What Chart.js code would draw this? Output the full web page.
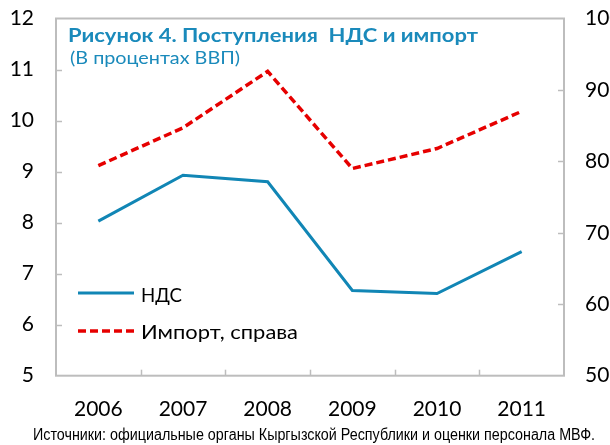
<!DOCTYPE html>
<html>
<head>
<meta charset="utf-8">
<script src="https://cdn.jsdelivr.net/npm/chart.js@4/dist/chart.umd.min.js"></script>
<style>
  html, body { margin: 0; padding: 0; background: #fff; }
  #wrap { position: relative; width: 610px; height: 445px; overflow: hidden; background: #fff; }
  #c { position: absolute; left: 0; top: 0; }
  .t { position: absolute; white-space: pre; line-height: 1; transform-origin: 0 0; margin: 0; }
  #title { font-family: Lato, 'Open Sans', sans-serif; font-weight: 700; font-size: 19px; color: #1a8abb; }
  #subtitle { font-family: Lato, 'Open Sans', sans-serif; font-weight: 400; font-size: 17px; color: #1a8abb; }
  .leg { font-family: Lato, 'Open Sans', sans-serif; font-size: 20px; color: #000; }
  #source { font-family: 'Liberation Sans', Arial, sans-serif; font-size: 16px; color: #000; }
  #legsvg { position: absolute; left: 0; top: 0; }
</style>
</head>
<body>
<div id="wrap">
  <canvas id="c" width="630" height="445"></canvas>
  <div class="t" id="title" data-w="410" style="left:68px;top:25px">Рисунок 4. Поступления  НДС и импорт</div>
  <div class="t" id="subtitle" data-w="170" style="left:70px;top:49px">(В процентах ВВП)</div>
  <svg id="legsvg" width="610" height="445">
    <line x1="78" y1="293" x2="134" y2="293" stroke="#1186b5" stroke-width="3"/>
    <line x1="78" y1="331" x2="134" y2="331" stroke="#e60000" stroke-width="3.5" stroke-dasharray="8 4"/>
  </svg>
  <div class="t leg" data-w="41" style="left:141px;top:284px">НДС</div>
  <div class="t leg" data-w="157" style="left:141px;top:321px">Импорт, справа</div>
  <div class="t" id="source" data-w="562" style="left:33px;top:426.5px">Источники: официальные органы Кыргызской Республики и оценки персонала МВФ.</div>
</div>
<script>
// ---- data ----
const years = ['2006', '2007', '2008', '2009', '2010', '2011'];
const vatRevenue = [8.03, 8.93, 8.80, 6.67, 6.61, 7.43];      // НДС, left axis (% of GDP)
const imports = [79.4, 84.7, 92.6, 79.0, 81.8, 87.0];         // Импорт, right axis (% of GDP)
const leftRange = [5, 12];
const rightRange = [50, 100];

// fit text widths
document.querySelectorAll('.t[data-w]').forEach(el => {
  const w = el.getBoundingClientRect().width;
  const target = parseFloat(el.dataset.w);
  if (w > 0) el.style.transform = 'scaleX(' + (target / w) + ')';
});

const frame = {
  id: 'frame',
  beforeDatasetsDraw(chart) {
    const { ctx, chartArea: a, scales } = chart;
    ctx.save();
    ctx.strokeStyle = '#bdbdbd';
    ctx.lineWidth = 2;
    ctx.strokeRect(a.left, a.top, a.right - a.left, a.bottom - a.top);
    ctx.lineWidth = 1.5;
    const seg = (x1, y1, x2, y2) => { ctx.beginPath(); ctx.moveTo(x1, y1); ctx.lineTo(x2, y2); ctx.stroke(); };
    scales.y.ticks.forEach(t => {
      if (t.value > leftRange[0] && t.value < leftRange[1]) {
        const y = Math.round(scales.y.getPixelForValue(t.value)) + 0.5;
        seg(a.left, y, a.left + 6, y);
      }
    });
    scales.y2.ticks.forEach(t => {
      if (t.value > rightRange[0] && t.value < rightRange[1]) {
        const y = Math.round(scales.y2.getPixelForValue(t.value)) + 0.5;
        seg(a.right - 6, y, a.right, y);
      }
    });
    for (let i = 0; i < years.length - 1; i++) {
      const x = Math.round((scales.x.getPixelForValue(i) + scales.x.getPixelForValue(i + 1)) / 2) + 0.5;
      seg(x, a.bottom, x, a.bottom - 6);
    }
    ctx.restore();
  }
};

const tickFont = { family: "Lato, 'Open Sans', sans-serif", size: 21 };
const noPad = s => { s.paddingTop = 0; s.paddingBottom = 0; s.paddingLeft = 0; s.paddingRight = 0; };

new Chart(document.getElementById('c'), {
  type: 'line',
  data: {
    labels: years,
    datasets: [
      {
        label: 'НДС', data: vatRevenue, yAxisID: 'y',
        borderColor: '#1186b5', borderWidth: 3, pointRadius: 0, tension: 0,
        borderJoinStyle: 'miter'
      },
      {
        label: 'Импорт, справа', data: imports, yAxisID: 'y2',
        borderColor: '#e60000', borderWidth: 3.5, borderDash: [8, 4], pointRadius: 0, tension: 0
      }
    ]
  },
  options: {
    responsive: false,
    animation: false,
    devicePixelRatio: 1,
    layout: { padding: { top: 18.5, left: 0, right: 0, bottom: 0 } },
    plugins: { legend: { display: false }, tooltip: { enabled: false }, title: { display: false } },
    scales: {
      x: {
        offset: true,
        grid: { display: false, drawTicks: false },
        border: { display: false },
        ticks: { font: tickFont, color: '#000', padding: 21, maxRotation: 0, autoSkip: false },
        afterFit(s) { s.height = 69.3; noPad(s); }
      },
      y: {
        position: 'left', min: leftRange[0], max: leftRange[1],
        grid: { display: false, drawTicks: false },
        border: { display: false },
        ticks: { stepSize: 1, font: tickFont, color: '#000', padding: 22, autoSkip: false },
        afterFit(s) { s.width = 56; noPad(s); }
      },
      y2: {
        position: 'right', min: rightRange[0], max: rightRange[1],
        grid: { display: false, drawTicks: false },
        border: { display: false },
        ticks: { stepSize: 10, font: tickFont, color: '#000', padding: 21, autoSkip: false },
        afterFit(s) { s.width = 66; noPad(s); }
      }
    }
  },
  plugins: [frame]
});
</script>
</body>
</html>
